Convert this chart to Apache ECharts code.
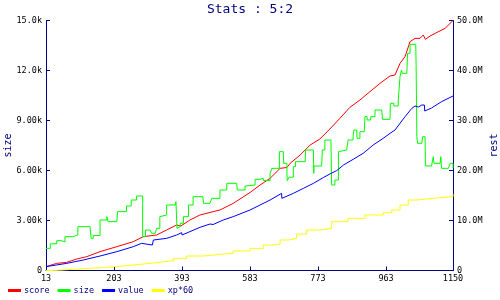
<!DOCTYPE html>
<html><head><meta charset="utf-8">
<script src="https://cdn.jsdelivr.net/npm/echarts@6/dist/echarts.min.js"></script>
<style>html,body{margin:0;padding:0;background:#fff}#c{width:500px;height:300px}</style>
</head><body><div id="c"></div>
<script>
var xTicks = [13, 203, 393, 583, 773, 963, 1150];
var seriesNames = ['score', 'size', 'value', 'xp*60'];
// size (left axis, units)
var sizeData = [[13,1330],[25,1600],[43,1790],[55,1720],[66,2030],[88,2130],[102,2630],[136,2630],[139,1930],[145,2100],[164,3030],[183,3230],[186,2930],[211,2930],[213,3530],[238,3870],[251,4230],[266,4470],[283,2030],[291,2430],[304,2430],[308,2230],[318,2330],[322,2530],[331,3230],[335,3330],[350,3930],[374,4030],[376,4130],[379,2530],[383,2630],[388,2830],[397,3230],[411,3930],[424,4430],[451,4430],[453,4030],[471,4130],[476,4330],[499,4830],[518,5230],[546,5300],[547,4830],[569,5070],[574,5130],[597,5470],[611,5530],[620,5400],[639,5830],[644,6130],[665,7130],[676,7130],[677,6430],[686,5830],[687,5390],[692,5600],[704,6230],[710,6530],[737,6630],[738,7230],[760,7230],[761,5830],[762,6270],[783,6270],[785,7230],[792,7830],[809,7830],[811,5130],[820,5430],[830,7130],[834,7230],[853,7230],[857,7830],[871,8030],[873,8430],[881,8430],[882,7930],[890,8330],[902,8330],[904,9230],[910,9030],[920,9230],[932,9630],[951,9630],[953,9070],[974,9070],[975,10030],[985,9870],[997,10190],[1002,11630],[1006,12030],[1008,11830],[1021,11830],[1023,13030],[1030,13570],[1046,13570],[1047,12230],[1049,8030],[1051,7630],[1063,7630],[1065,8030],[1072,8030],[1073,6270],[1090,6270],[1095,6830],[1097,6430],[1114,6430],[1116,6830],[1118,6130],[1137,6130],[1142,6430],[1150,6130]];
// score, value, xp*60 (right axis, millions)
var scoreData = [[13,0.77],[43,1.43],[71,1.63],[99,2.3],[127,2.77],[164,3.77],[211,4.77],[257,5.77],[285,6.77],[322,7.1],[350,8.1],[378,9.1],[390,8.9],[415,10.1],[443,11.1],[480,11.77],[499,12.1],[536,13.43],[583,15.6],[611,17.1],[639,18.43],[667,20.43],[686,20.6],[695,21.43],[723,23.1],[751,25.1],[778,26.3],[806,28.3],[834,30.43],[862,32.63],[890,34.1],[918,35.77],[946,37.43],[974,38.9],[988,39.1],[1002,41.43],[1016,42.77],[1030,45.77],[1044,46.43],[1058,46.43],[1067,47.1],[1072,47.1],[1073,46.23],[1086,46.9],[1100,47.43],[1128,48.43],[1150,50]];
var valueData = [[13,0.77],[71,1.43],[117,2.1],[164,2.9],[211,3.77],[257,4.77],[280,5.43],[282,5.1],[310,5.1],[313,6.1],[350,6.43],[378,7.1],[392,7.57],[393,7.1],[415,7.77],[443,8.63],[471,9.3],[480,9.2],[508,10.1],[536,10.77],[583,12.1],[611,13.1],[639,14.1],[671,15.43],[672,14.43],[704,15.43],[732,16.43],[760,17.43],[788,18.6],[806,19.3],[825,19.97],[844,21.1],[871,22.23],[899,23.43],[927,25.1],[955,26.43],[974,27.43],[988,28.1],[1016,30.77],[1035,32.43],[1044,32.9],[1053,32.7],[1063,33.1],[1070,33.1],[1071,31.9],[1090,32.5],[1118,33.77],[1150,34.9]];
var xpData = [[13,0],[33,0.23],[89,0.43],[136,0.63],[183,0.9],[229,1.23],[276,1.57],[322,1.97],[369,2.43],[406,2.9],[452,3.23],[499,3.43],[536,3.9],[583,4.43],[620,5.1],[644,5.3],[667,6.1],[690,6.43],[713,7.3],[741,8.1],[778,8.43],[811,9.77],[857,10.43],[904,11.1],[955,11.57],[979,12.1],[1002,13.1],[1025,14.1],[1049,14.43],[1095,14.77],[1150,15.3]];

var NAVY = '#000080';
var FONT = 'DejaVu Sans Mono';
var chart = echarts.init(document.getElementById('c'), null, {renderer: 'canvas'});
function lineSeries(name, data, color, axis, step) {
  return {name: name, type: 'line', data: data, yAxisIndex: axis, step: step || false,
    showSymbol: false, symbol: 'none', animation: false,
    lineStyle: {color: color, width: 1}, itemStyle: {color: color}};
}
chart.setOption({
  animation: false,
  backgroundColor: '#fff',
  title: {text: 'Stats : 5:2', left: 'center', top: -2,
    textStyle: {fontFamily: FONT, fontSize: 13, fontWeight: 'normal', color: NAVY}},
  legend: {left: 3, bottom: 0, itemWidth: 13, itemHeight: 3, itemGap: 8, icon: 'rect',
    data: seriesNames,
    textStyle: {fontFamily: FONT, fontSize: 8.5, color: NAVY, padding: [0,0,0,-2]}},
  grid: {left: 46, right: 47, top: 20.5, bottom: 29.5, containLabel: false, outerBoundsMode: 'none'},
  xAxis: {type: 'value', min: 13, max: 1150,
    axisLine: {lineStyle: {color: NAVY, width: 1}},
    axisTick: {inside: true, length: 4, lineStyle: {color: NAVY}, customValues: xTicks},
    axisLabel: {customValues: xTicks, color: '#000', fontFamily: FONT, fontSize: 8.5, margin: 4,
      formatter: function (v) { return String(v); }},
    splitLine: {show: false}},
  yAxis: [
    {type: 'value', min: 0, max: 15000, interval: 3000, position: 'left',
      name: 'size', nameLocation: 'middle', nameGap: 33, nameRotate: 90, nameMoveOverlap: false,
      nameTextStyle: {fontFamily: FONT, fontSize: 10, color: NAVY},
      axisLine: {show: true, lineStyle: {color: NAVY, width: 1}},
      axisTick: {show: true, inside: true, length: 4, lineStyle: {color: NAVY}},
      axisLabel: {color: '#000', fontFamily: FONT, fontSize: 8.5, margin: 4,
        formatter: function (v) { if (v === 0) return '0'; var k = v / 1000; return (k < 10 ? k.toFixed(2) : k.toFixed(1)) + 'k'; }},
      splitLine: {show: false}},
    {type: 'value', min: 0, max: 50, interval: 10, position: 'right',
      name: 'rest', nameLocation: 'middle', nameGap: 36, nameRotate: 90, nameMoveOverlap: false,
      nameTextStyle: {fontFamily: FONT, fontSize: 10, color: NAVY},
      axisLine: {show: true, lineStyle: {color: NAVY, width: 1}},
      axisTick: {show: true, inside: true, length: 4, lineStyle: {color: NAVY}},
      axisLabel: {color: '#000', fontFamily: FONT, fontSize: 8.5, margin: 4,
        formatter: function (v) { return v === 0 ? '0' : v.toFixed(1) + 'M'; }},
      splitLine: {show: false}}
  ],
  series: [
    lineSeries('score', scoreData, '#ff0000', 1),
    lineSeries('size', sizeData, '#00ff00', 0, 'end'),
    lineSeries('value', valueData, '#0000ff', 1),
    lineSeries('xp*60', xpData, '#ffff00', 1, 'end')
  ]
});
</script></body></html>
